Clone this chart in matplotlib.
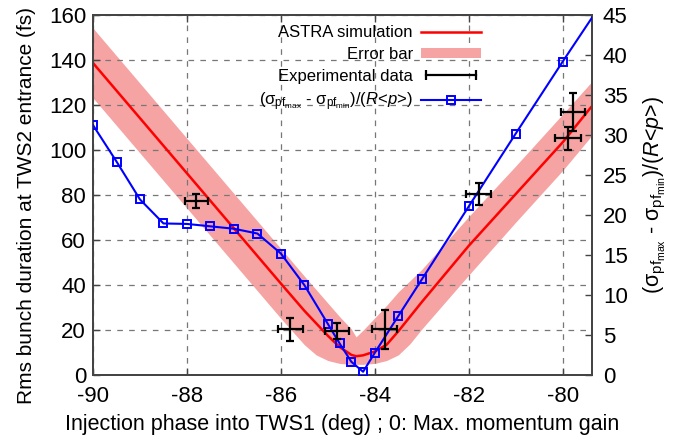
import matplotlib
matplotlib.use("Agg")
import matplotlib.pyplot as plt
from matplotlib.lines import Line2D
from matplotlib.patches import Patch
from matplotlib.legend_handler import HandlerLine2D

plt.rcParams['font.family'] = ['Liberation Sans', 'DejaVu Sans']
plt.rcParams['mathtext.fontset'] = 'custom'
plt.rcParams['mathtext.rm'] = 'Liberation Sans'
plt.rcParams['mathtext.it'] = 'Liberation Sans:italic'
plt.rcParams['mathtext.bf'] = 'Liberation Sans:bold'

# ASTRA simulation (left axis, fs)
sim_phase = [-90, -89, -88, -87, -86, -85.5, -85, -84.75, -84.5, -84.4, -84.25,
             -84, -83.75, -83.5, -83, -82, -81, -80, -79.4]
sim_dur = [138.7, 114.2, 89.7, 65.2, 40.7, 28.6, 17.5, 12.5, 9.0, 8.4, 8.8,
           10.5, 13.5, 19.5, 32.5, 57.5, 80.5, 103.5, 119.0]
band_phase = [-90, -89, -88, -87, -86, -85.5, -85.25, -85, -84.75, -84.5, -84.4,
              -84.25, -84, -83.75, -83.5, -83.25, -83, -82, -81, -80, -79.4]
band_upper = [154.2, 129.7, 105.2, 80.7, 56.2, 44.0, 38.0, 32.0, 26.0, 20.5, 17.0,
              20.0, 25.5, 31.0, 37.0, 42.0, 47.0, 70.5, 93.0, 116.0, 130.0]
band_lower = [123.2, 98.7, 74.2, 49.7, 25.2, 13.5, 9.0, 6.5, 5.2, 4.8, 4.8,
              4.8, 5.2, 6.5, 9.0, 14.0, 20.5, 44.5, 68.0, 91.0, 106.0]

# Experimental data (left axis, fs)
exp_phase = [-87.8, -85.8, -84.8, -83.79, -81.79, -79.89, -79.78]
exp_dur = [77.3, 20.4, 19.6, 20.3, 80.4, 105.2, 117.0]
exp_phase_err = [0.25, 0.27, 0.26, 0.26, 0.26, 0.27, 0.26]
exp_dur_err = [3.2, 5.2, 3.5, 8.5, 4.9, 5.3, 8.5]

# Momentum spread ratio (right axis)
ratio_phase = [-90, -89.5, -89, -88.5, -88, -87.5, -87, -86.5, -86, -85.5, -85,
               -84.75, -84.5, -84.25, -84, -83.5, -83, -82, -81, -80, -79]
ratio_val = [31.25, 26.7, 21.96, 18.96, 18.9, 18.6, 18.3, 17.7, 15.2, 11.25, 6.4,
             3.96, 1.67, 0.42, 2.8, 7.4, 11.96, 21.1, 30.2, 39.2, 48.0]

xticks = [-90, -88, -86, -84, -82, -80]
yticks_left = [0, 20, 40, 60, 80, 100, 120, 140, 160]
yticks_right = [0, 5, 10, 15, 20, 25, 30, 35, 40, 45]
YMAX_LEFT, YMAX_RIGHT = 160, 45

ratio_label = ('(σ$_{\\mathrm{pf}_{\\mathrm{max}}}$ - σ$_{\\mathrm{pf}_{\\mathrm{min}}}$)'
               '/($R$<$p$>)')

fig = plt.figure(figsize=(6.89, 4.45), dpi=100)
ax = fig.add_axes([0.135, 0.157, 0.724, 0.809])
ax2 = ax.twinx()

spine_col = '#444444'
band_col = '#f5a3a3'
ax.fill_between(band_phase, band_lower, band_upper, color=band_col, lw=0, zorder=1)
ax.plot(sim_phase, sim_dur, color='#ff0000', lw=1.8, zorder=2)
ax2.plot(ratio_phase, ratio_val, color='#0000ff', lw=1.5, marker='s', ms=5.5,
         mfc='none', mec='#0000ff', mew=1.4, zorder=4, clip_on=True)

# experimental points drawn on the top axes (scaled to its range) so they sit above the blue line
k = YMAX_RIGHT / YMAX_LEFT
ax2.errorbar(exp_phase, [v * k for v in exp_dur],
             xerr=exp_phase_err, yerr=[e * k for e in exp_dur_err], fmt='none',
             ecolor='black', elinewidth=1.6, capsize=3, capthick=1.6, zorder=5)

ax.set_xlim(-90, -79.38)
ax.set_ylim(0, YMAX_LEFT)
ax2.set_ylim(0, YMAX_RIGHT)
ax.set_xticks(xticks)
ax.set_xticklabels([str(t) for t in xticks])
ax.set_yticks(yticks_left)
ax2.set_yticks(yticks_right)

ax.grid(True, color='#777777', lw=0.9, linestyle=(0, (4.5, 5)))
for a in (ax, ax2):
    for s in a.spines.values():
        s.set_color(spine_col)
        s.set_linewidth(1.3)
ax.tick_params(axis='x', direction='in', top=True, length=5, width=1, colors=spine_col,
               labelcolor='black', labelsize=16, pad=8)
ax.tick_params(axis='y', direction='in', right=False, length=5, width=1, colors=spine_col,
               labelcolor='black', labelsize=16, pad=5)
ax2.tick_params(axis='y', direction='in', length=5, width=1, colors=spine_col,
                labelcolor='black', labelsize=16, pad=8)
ax.set_zorder(1)
ax2.set_zorder(2)
ax.patch.set_visible(True)
ax2.patch.set_visible(False)

ax.set_xlabel('Injection phase into TWS1 (deg) ; 0: Max. momentum gain', fontsize=15.5,
              labelpad=5)
ax.set_ylabel('Rms bunch duration at TWS2 entrance (fs)', fontsize=15)
ax.yaxis.set_label_coords(-0.115, 0.47)
ax2.set_ylabel(ratio_label, fontsize=15.5, labelpad=10)

# legend
h_sim = Line2D([], [], color='#ff0000', lw=1.8)
h_band = Patch(facecolor=band_col, edgecolor='none')
h_exp = Line2D([], [], color='black', lw=1.6, marker='|', ms=7, mew=1.6)
h_ratio = Line2D([], [], color='#0000ff', lw=1.5, marker='s', ms=5.5, mfc='none',
                 mec='#0000ff', mew=1.4)
leg = ax2.legend([h_sim, h_band, h_exp, h_ratio],
                 ['ASTRA simulation', 'Error bar', 'Experimental data', ratio_label],
                 handler_map={h_exp: HandlerLine2D(numpoints=2),
                              h_ratio: HandlerLine2D(numpoints=1)},
                 loc='upper right', bbox_to_anchor=(0.778, 0.972), frameon=False,
                 markerfirst=False, fontsize=12, handlelength=3.6, handleheight=0.6,
                 handletextpad=0.5, labelspacing=0.4, borderpad=0, borderaxespad=0)

fig.savefig('out.png', dpi=100)
